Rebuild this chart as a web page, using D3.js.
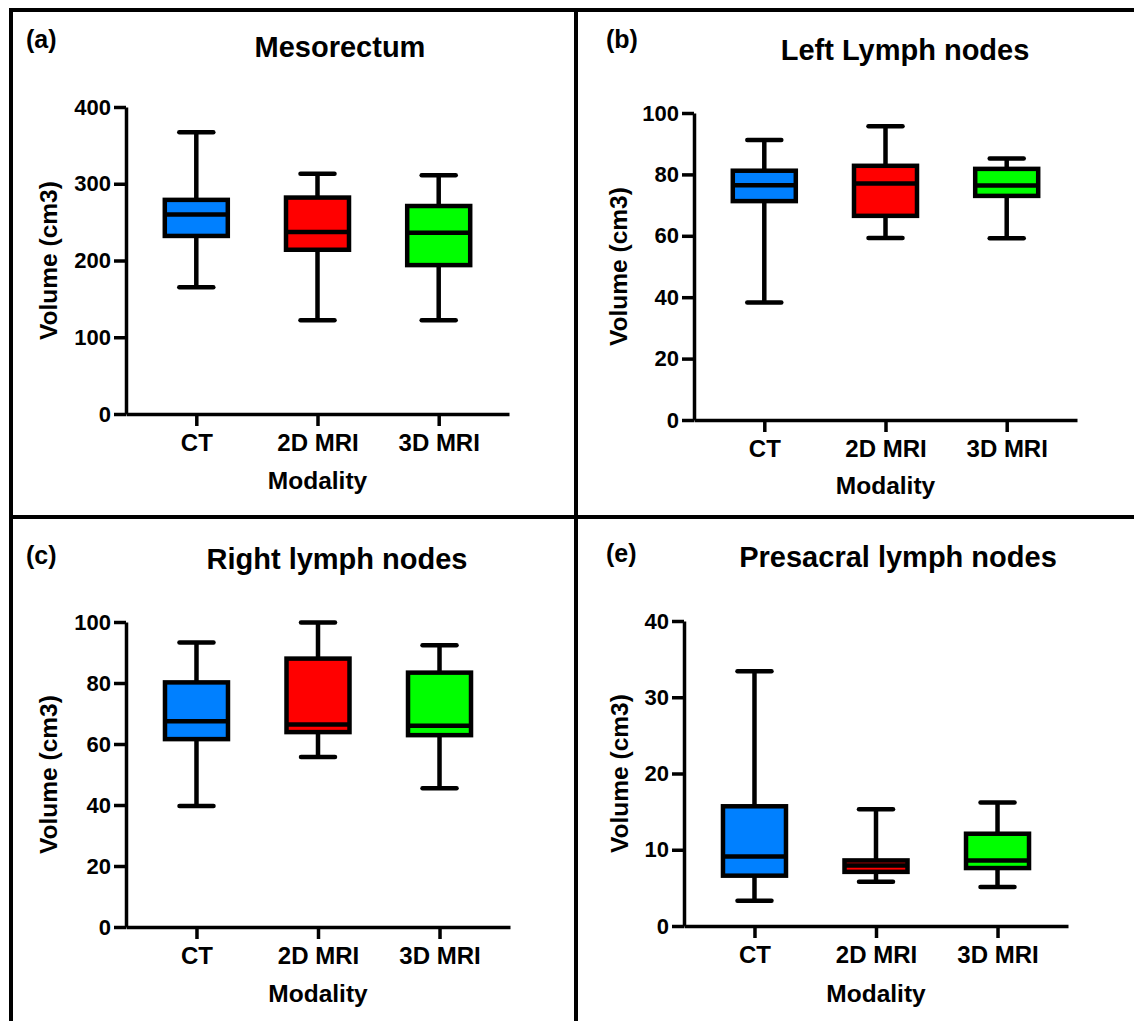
<!DOCTYPE html>
<html>
<head>
<meta charset="utf-8">
<script src="https://cdn.jsdelivr.net/npm/d3@7"></script>
<style>
  body { margin: 0; background: #fff; }
  text { font-family: "Liberation Sans", Arial, sans-serif; font-weight: bold; fill: #000; }
</style>
</head>
<body>
<svg id="fig"></svg>
<script>
// data: [min, q1, median, q3, max] per modality
const categories = ["CT", "2D MRI", "3D MRI"];
const colors = ["#0080ff", "#ff0000", "#00ff00"];

const mesorectum = [
  [165, 232, 260, 279, 367],
  [122, 214, 237, 282, 313],
  [122, 194, 236, 271, 311]
];
const leftLymph = [
  [38.3, 71.3, 76.5, 81.2, 91.2],
  [59.3, 66.5, 77, 82.8, 95.7],
  [59.2, 73, 76.4, 81.8, 85.2]
];
const rightLymph = [
  [39.7, 61.6, 67.5, 80.2, 93.3],
  [55.7, 63.9, 66.4, 88, 99.8],
  [45.5, 62.9, 66, 83.4, 92.4]
];
const presacral = [
  [3.3, 6.6, 9.1, 15.7, 33.4],
  [5.8, 7.1, 7.95, 8.6, 15.3],
  [5.1, 7.6, 8.6, 12.1, 16.2]
];

const ticksA = [0, 100, 200, 300, 400];
const ticksB = [0, 20, 40, 60, 80, 100];
const ticksE = [0, 10, 20, 30, 40];

const panels = [
  { letter: "(a)", title: "Mesorectum", data: mesorectum, ticks: ticksA,
    axisX: 126, axisEnd: 509, yTop: 107, yBottom: 414,
    titleX: 340, titleY: 57, letterX: 26, letterY: 48, modY: 489, volX: 57 },
  { letter: "(b)", title: "Left Lymph nodes", data: leftLymph, ticks: ticksB,
    axisX: 694, axisEnd: 1077, yTop: 113, yBottom: 420,
    titleX: 905, titleY: 60, letterX: 606, letterY: 48, modY: 494, volX: 627 },
  { letter: "(c)", title: "Right lymph nodes", data: rightLymph, ticks: ticksB,
    axisX: 126, axisEnd: 510, yTop: 622, yBottom: 927,
    titleX: 337, titleY: 569, letterX: 26, letterY: 564, modY: 1002, volX: 57 },
  { letter: "(e)", title: "Presacral lymph nodes", data: presacral, ticks: ticksE,
    axisX: 684, axisEnd: 1068, yTop: 621, yBottom: 926,
    titleX: 898, titleY: 567, letterX: 606, letterY: 562, modY: 1002, volX: 628 }
];

const width = 1134;
const height = 1021;
const boxWidth = 63;
const capWidth = 34;
const lineW = 4.5;

const svg = d3.select("#fig").attr("width", width).attr("height", height);

// panel frame lines
const frame = svg.append("g").attr("stroke", "#000").attr("stroke-width", 4);
frame.append("line").attr("x1", 11).attr("y1", 8).attr("x2", 11).attr("y2", height);
frame.append("line").attr("x1", 9).attr("y1", 10).attr("x2", width).attr("y2", 10);
frame.append("line").attr("x1", 576).attr("y1", 8).attr("x2", 576).attr("y2", height);
frame.append("line").attr("x1", 9).attr("y1", 517).attr("x2", width).attr("y2", 517);

panels.forEach(function (p) {
  const g = svg.append("g");

  const y = d3.scaleLinear()
    .domain([0, d3.max(p.ticks)])
    .range([p.yBottom, p.yTop]);

  const x = d3.scalePoint()
    .domain(categories)
    .range([p.axisX, p.axisEnd])
    .padding(0.58);

  // y axis
  const yAxis = g.append("g")
    .attr("transform", "translate(" + p.axisX + ",0)")
    .call(d3.axisLeft(y).tickValues(p.ticks).tickSize(12).tickSizeOuter(0).tickPadding(3));
  yAxis.selectAll("path, line").attr("stroke", "#000").attr("stroke-width", 3.5);
  yAxis.selectAll("text").attr("font-size", "22px");

  // x axis
  const xAxis = g.append("g")
    .attr("transform", "translate(0," + p.yBottom + ")")
    .call(d3.axisBottom(x).tickSize(12).tickSizeOuter(0).tickPadding(8));
  xAxis.selectAll("path, line").attr("stroke", "#000").attr("stroke-width", 3.5);
  xAxis.selectAll("text").attr("font-size", "24px");

  // boxes
  const boxes = g.selectAll(".box")
    .data(p.data)
    .enter()
    .append("g")
    .attr("transform", function (d, i) {
      return "translate(" + x(categories[i]) + ",0)";
    });

  boxes.append("line")
    .attr("x1", 0).attr("x2", 0)
    .attr("y1", function (d) { return y(d[4]); })
    .attr("y2", function (d) { return y(d[0]); })
    .attr("stroke", "#000").attr("stroke-width", lineW);

  boxes.selectAll(".cap")
    .data(function (d) { return [d[0], d[4]]; })
    .enter()
    .append("line")
    .attr("x1", -capWidth / 2).attr("x2", capWidth / 2)
    .attr("y1", function (v) { return y(v); })
    .attr("y2", function (v) { return y(v); })
    .attr("stroke", "#000").attr("stroke-width", lineW)
    .attr("stroke-linecap", "round");

  boxes.append("rect")
    .attr("x", -boxWidth / 2)
    .attr("width", boxWidth)
    .attr("y", function (d) { return y(d[3]); })
    .attr("height", function (d) { return y(d[1]) - y(d[3]); })
    .attr("fill", function (d, i) { return colors[i]; })
    .attr("stroke", "#000").attr("stroke-width", lineW);

  boxes.append("line")
    .attr("x1", -boxWidth / 2).attr("x2", boxWidth / 2)
    .attr("y1", function (d) { return y(d[2]); })
    .attr("y2", function (d) { return y(d[2]); })
    .attr("stroke", "#000").attr("stroke-width", lineW);

  // texts
  g.append("text")
    .attr("x", p.letterX).attr("y", p.letterY)
    .attr("font-size", "25px")
    .text(p.letter);

  g.append("text")
    .attr("x", p.titleX).attr("y", p.titleY)
    .attr("text-anchor", "middle")
    .attr("font-size", "29px")
    .text(p.title);

  g.append("text")
    .attr("x", x(categories[1])).attr("y", p.modY)
    .attr("text-anchor", "middle")
    .attr("font-size", "24.5px")
    .text("Modality");

  g.append("text")
    .attr("transform", "translate(" + p.volX + "," + (p.yTop + p.yBottom) / 2 + ") rotate(-90)")
    .attr("text-anchor", "middle")
    .attr("font-size", "24.5px")
    .text("Volume (cm3)");
});
</script>
</body>
</html>
